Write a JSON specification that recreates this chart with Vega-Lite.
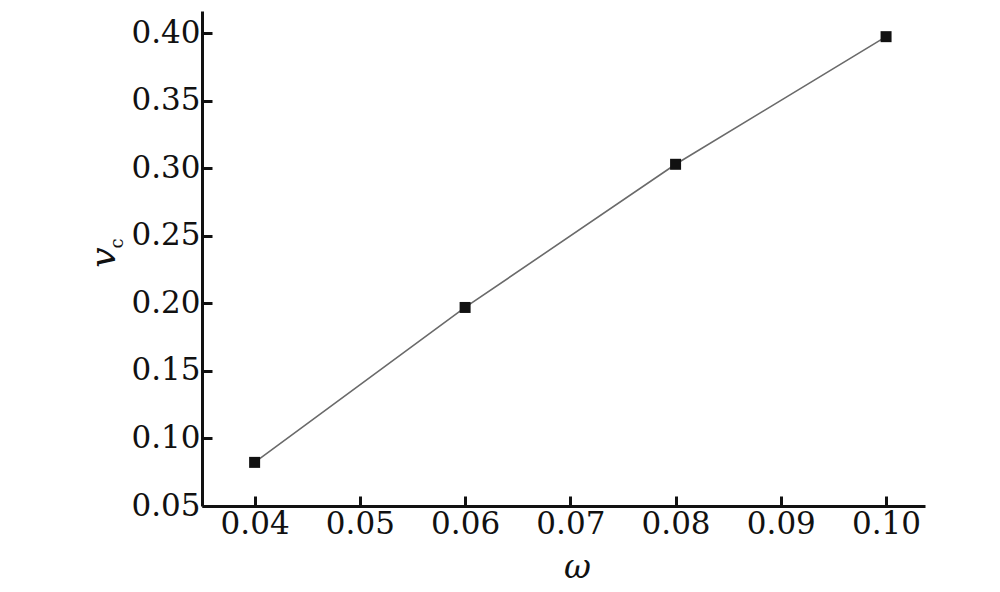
{
  "$schema": "https://vega.github.io/schema/vega-lite/v6.json",
  "width": 723,
  "height": 495,
  "autosize": "none",
  "padding": {"left": 202, "top": 11, "right": 75, "bottom": 86},
  "background": "white",
  "config": {
    "view": {"stroke": null},
    "axis": {
      "domainColor": "#111111",
      "domainWidth": 3,
      "tickColor": "#111111",
      "tickWidth": 3,
      "tickSize": -10,
      "grid": false,
      "labelFont": "DejaVu Serif",
      "labelFontSize": 31,
      "labelColor": "#111111",
      "titleFont": "DejaVu Serif",
      "titleColor": "#111111",
      "titleFontWeight": "normal"
    }
  },
  "data": {
    "values": [
      {"omega": 0.04, "vc": 0.0823},
      {"omega": 0.06, "vc": 0.197},
      {"omega": 0.08, "vc": 0.303},
      {"omega": 0.10, "vc": 0.3975}
    ]
  },
  "layer": [
    {
      "mark": {"type": "line", "color": "#6a6a6a", "strokeWidth": 1.6},
      "encoding": {
        "x": {
          "field": "omega",
          "type": "quantitative",
          "scale": {"domain": [0.035, 0.1037], "nice": false, "zero": false},
          "axis": {
            "values": [0.04, 0.05, 0.06, 0.07, 0.08, 0.09, 0.10],
            "format": ".2f",
            "labelPadding": 13,
            "title": "ω",
            "titleFontStyle": "italic",
            "titleFontSize": 33,
            "titleX": 375,
            "titleY": 61,
            "titleBaseline": "middle",
            "titleAlign": "center"
          }
        },
        "y": {
          "field": "vc",
          "type": "quantitative",
          "scale": {"domain": [0.05, 0.4165], "nice": false, "zero": false},
          "axis": {
            "orient": "right",
            "labels": false,
            "ticks": false,
            "domain": false,
            "title": "c",
            "titleFontSize": 18,
            "titleAngle": -90,
            "titleX": -808,
            "titleY": 232,
            "titleBaseline": "middle",
            "titleAlign": "center"
          }
        }
      }
    },
    {
      "mark": {"type": "square", "size": 121, "filled": true, "color": "#111111", "opacity": 1},
      "encoding": {
        "x": {
          "field": "omega",
          "type": "quantitative",
          "scale": {"domain": [0.035, 0.1037], "nice": false, "zero": false}
        },
        "y": {
          "field": "vc",
          "type": "quantitative",
          "scale": {"domain": [0.05, 0.4165], "nice": false, "zero": false},
          "axis": {
            "values": [0.05, 0.10, 0.15, 0.20, 0.25, 0.30, 0.35, 0.40],
            "format": ".2f",
            "labelPadding": 12,
            "title": "v",
            "titleFontStyle": "italic",
            "titleFontSize": 36,
            "titleAngle": -90,
            "titleX": -99,
            "titleY": 246,
            "titleBaseline": "middle",
            "titleAlign": "center"
          }
        }
      }
    }
  ],
  "resolve": {"axis": {"y": "independent"}}
}
